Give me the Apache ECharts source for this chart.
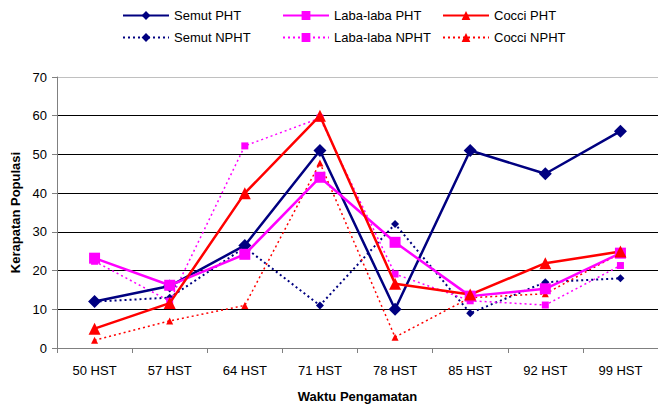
<!DOCTYPE html>
<html>
<head>
<meta charset="utf-8">
<style>
  html, body { margin: 0; padding: 0; background: #fff; }
  #chart { width: 658px; height: 408px; }
</style>
<script src="https://cdn.jsdelivr.net/npm/echarts@6/dist/echarts.min.js"></script>
</head>
<body>
<div id="chart"></div>
<script>
var categories = ['50 HST', '57 HST', '64 HST', '71 HST', '78 HST', '85 HST', '92 HST', '99 HST'];
var semutPHT = [12, 16, 26.5, 51, 10, 51, 45, 56];
var labaPHT = [23.2, 16.2, 24.2, 44.1, 27.3, 13.4, 15.3, 24.5];
var cocciPHT = [5, 11.6, 40, 60, 16.6, 13.8, 21.9, 24.9];
var semutNPHT = [12, 13, 26, 11, 32, 9, 17, 18];
var labaNPHT = [22.4, 12.1, 52.2, 59.4, 19.1, 12.2, 11.1, 21.3];
var cocciNPHT = [2, 7, 11, 47.8, 2.8, 13, 14, 24.5];

var navy = '#000080', magenta = '#ff00ff', red = '#ff0000';
var font = 'Arial, "Liberation Sans", sans-serif';

var chart = echarts.init(document.getElementById('chart'), null, { renderer: 'svg' });

function line(name, data, color, symbol, size, width, type, z) {
  return {
    name: name,
    type: 'line',
    data: data,
    symbol: symbol,
    symbolSize: size,
    z: z,
    lineStyle: { color: color, width: width, type: type },
    itemStyle: { color: color, borderWidth: 0 },
    emphasis: { disabled: true }
  };
}

function legendAt(name, left, top) {
  return {
    data: [name],
    left: left,
    top: top,
    padding: 0,
    itemWidth: 46,
    itemHeight: 11,
    itemGap: 4,
    selectedMode: false,
    textStyle: { fontFamily: font, fontSize: 13, color: '#000', padding: [0, 0, 0, 0] }
  };
}

chart.setOption({
  animation: false,
  legend: [
    legendAt('Semut PHT', 122, 9),
    legendAt('Laba-laba PHT', 282, 9),
    legendAt('Cocci PHT', 442, 9),
    legendAt('Semut NPHT', 122, 31),
    legendAt('Laba-laba NPHT', 282, 31),
    legendAt('Cocci NPHT', 442, 31)
  ],
  grid: { left: 57, right: 0, top: 77, bottom: 59 },
  xAxis: {
    type: 'category',
    data: categories,
    boundaryGap: true,
    name: 'Waktu Pengamatan',
    nameLocation: 'middle',
    nameGap: 42,
    nameTextStyle: { fontFamily: font, fontSize: 13, fontWeight: 'bold', color: '#000' },
    axisLine: { lineStyle: { color: '#808080', width: 1 } },
    axisTick: { show: true, interval: 0, length: 5, inside: false, lineStyle: { color: '#808080' } },
    axisLabel: { interval: 0, margin: 16, fontFamily: font, fontSize: 13, color: '#000' },
    splitLine: { show: false }
  },
  yAxis: {
    type: 'value',
    min: 0,
    max: 70,
    interval: 10,
    name: 'Kerapatan Populasi',
    nameLocation: 'middle',
    nameGap: 27,
    nameTextStyle: { fontFamily: font, fontSize: 13, fontWeight: 'bold', color: '#000' },
    axisLine: { show: true, lineStyle: { color: '#808080', width: 1 } },
    axisTick: { show: true, length: 5, lineStyle: { color: '#808080' } },
    axisLabel: { margin: 10, fontFamily: font, fontSize: 13, color: '#000' },
    splitLine: {
      show: true,
      lineStyle: { color: ['#808080', '#000', '#000', '#000', '#000', '#000', '#000', '#c0c0c0'], width: 1 }
    }
  },
  series: [
    line('Semut NPHT', semutNPHT, navy, 'diamond', 8, 2, [2, 3], 2),
    line('Laba-laba NPHT', labaNPHT, magenta, 'rect', 7, 1.5, [2, 3], 2),
    line('Cocci NPHT', cocciNPHT, red, 'triangle', 7, 1.5, [2, 3], 2),
    line('Semut PHT', semutPHT, navy, 'diamond', 13, 2.5, 'solid', 3),
    line('Laba-laba PHT', labaPHT, magenta, 'rect', 11, 2.5, 'solid', 3),
    line('Cocci PHT', cocciPHT, red, 'triangle', 12, 2.5, 'solid', 3)
  ]
});
</script>
</body>
</html>
